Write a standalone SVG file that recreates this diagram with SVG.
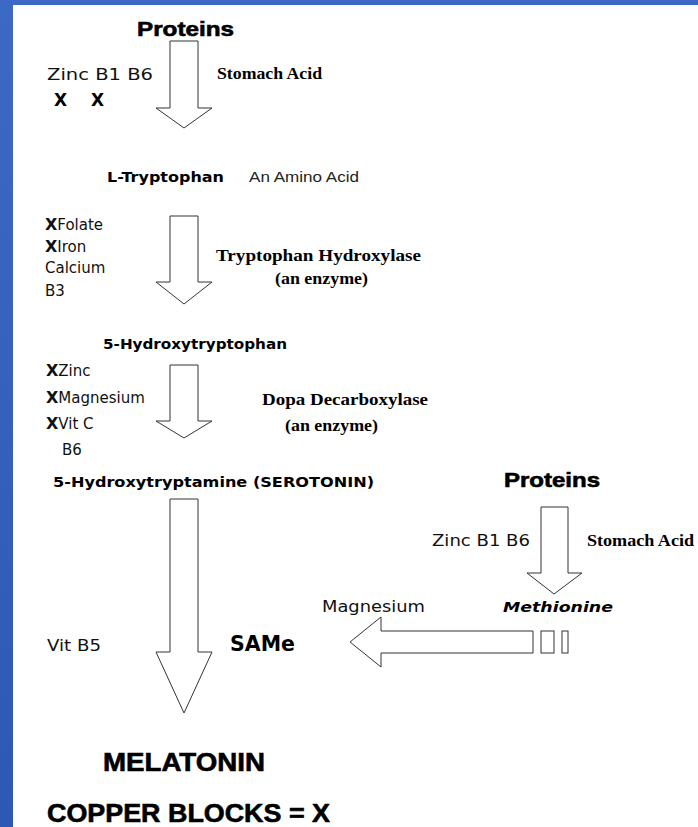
<svg xmlns="http://www.w3.org/2000/svg" width="698" height="827" viewBox="0 0 698 827">
<defs>
<linearGradient id="blue" x1="0" y1="0" x2="0" y2="1">
<stop offset="0" stop-color="#3C68C6"/>
<stop offset="1" stop-color="#2C58B6"/>
</linearGradient>
<style>
.heavy{font-family:"Liberation Sans",Arial,sans-serif;font-weight:bold;fill:#000;stroke:#000;stroke-width:0.6}
.verd{font-family:"DejaVu Sans",Verdana,sans-serif;font-size:15px;fill:#111}
.verdb{font-family:"DejaVu Sans",Verdana,sans-serif;font-size:14px;font-weight:bold;fill:#000}
.serif{font-family:"Liberation Serif","Times New Roman",serif;font-size:16px;font-weight:bold;fill:#000}
.thin{font-family:"Liberation Sans",Arial,sans-serif;font-size:14px;fill:#222}
.arrow{fill:#fff;stroke:#333;stroke-width:1}
</style>
</defs>
<rect x="0" y="0" width="698" height="827" fill="#fff"/>
<rect x="0" y="0" width="13" height="827" fill="url(#blue)"/>
<rect x="0" y="0" width="698" height="5" fill="#3C68C6"/>

<g id="connectors">
<polygon class="arrow" points="170,41 198,41 198,108 212,108 184,128 156,108 170,108"/>
<polygon class="arrow" points="170,216 198,216 198,282 212,282 184,304 156,282 170,282"/>
<polygon class="arrow" points="170,365 198,365 198,421 212,421 184,438 156,421 170,421"/>
<polygon class="arrow" points="170,499 198,499 198,652 212,652 184,713 156,652 170,652"/>
<polygon class="arrow" points="541,507 568,507 568,573 582,573 554,594 527,573 541,573"/>
<polygon class="arrow" points="533,631 533,653 381,653 381,667 350,642 381,617 381,631"/>
<rect class="arrow" x="541" y="631" width="13" height="22"/>
<rect class="arrow" x="562" y="631" width="6" height="22"/>
</g>

<g id="proteins1"><text class="heavy" x="137" y="36" style="font-size:20px" textLength="97" lengthAdjust="spacingAndGlyphs">Proteins</text></g>
<g id="cofactors1">
<text class="verd" x="47" y="80" textLength="106" lengthAdjust="spacingAndGlyphs">Zinc B1  B6</text>
<text class="verdb" x="54" y="106" style="font-size:17px">X</text>
<text class="verdb" x="91" y="106" style="font-size:17px">X</text>
</g>
<g id="stomach1"><text class="serif" x="217" y="79" textLength="105" lengthAdjust="spacingAndGlyphs">Stomach Acid</text></g>

<g id="ltryptophan">
<text class="verdb" x="107" y="182" textLength="117" lengthAdjust="spacingAndGlyphs">L-Tryptophan</text>
<text class="thin" x="249" y="182" textLength="110" lengthAdjust="spacingAndGlyphs">An Amino Acid</text>
</g>
<g id="cofactors2">
<text class="verd" x="45" y="230"><tspan font-weight="bold" style="font-size:16px">X</tspan>Folate</text>
<text class="verd" x="45" y="252"><tspan font-weight="bold" style="font-size:16px">X</tspan>Iron</text>
<text class="verd" x="45" y="273">Calcium</text>
<text class="verd" x="45" y="296">B3</text>
</g>
<g id="enzyme1">
<text class="serif" x="216" y="261" textLength="205" lengthAdjust="spacingAndGlyphs">Tryptophan Hydroxylase</text>
<text class="serif" x="275" y="284" textLength="93" lengthAdjust="spacingAndGlyphs">(an enzyme)</text>
</g>

<g id="htp"><text class="verdb" x="103" y="349" textLength="184" lengthAdjust="spacingAndGlyphs">5-Hydroxytryptophan</text></g>
<g id="cofactors3">
<text class="verd" x="46" y="376"><tspan font-weight="bold" style="font-size:16px">X</tspan>Zinc</text>
<text class="verd" x="46" y="403"><tspan font-weight="bold" style="font-size:16px">X</tspan>Magnesium</text>
<text class="verd" x="46" y="429"><tspan font-weight="bold" style="font-size:16px">X</tspan>Vit C</text>
<text class="verd" x="62" y="455">B6</text>
</g>
<g id="enzyme2">
<text class="serif" x="262" y="405" textLength="166" lengthAdjust="spacingAndGlyphs">Dopa Decarboxylase</text>
<text class="serif" x="285" y="431" textLength="93" lengthAdjust="spacingAndGlyphs">(an enzyme)</text>
</g>

<g id="serotonin"><text class="verdb" x="53" y="487" textLength="321" lengthAdjust="spacingAndGlyphs">5-Hydroxytryptamine (SEROTONIN)</text></g>

<g id="proteins2"><text class="heavy" x="504" y="487" style="font-size:20px" textLength="96" lengthAdjust="spacingAndGlyphs">Proteins</text></g>
<g id="cofactors4"><text class="verd" x="432" y="546" textLength="98" lengthAdjust="spacingAndGlyphs">Zinc B1 B6</text></g>
<g id="stomach2"><text class="serif" x="587" y="546" textLength="107" lengthAdjust="spacingAndGlyphs">Stomach Acid</text></g>
<g id="methionine"><text class="verdb" x="503" y="612" style="font-style:italic" textLength="110" lengthAdjust="spacingAndGlyphs">Methionine</text></g>
<g id="magnesium"><text class="verd" x="322" y="612" textLength="103" lengthAdjust="spacingAndGlyphs">Magnesium</text></g>
<g id="same"><text class="verdb" x="230" y="651" style="font-size:21px" textLength="65" lengthAdjust="spacingAndGlyphs">SAMe</text></g>
<g id="vitb5"><text class="verd" x="47" y="651" textLength="54" lengthAdjust="spacingAndGlyphs">Vit B5</text></g>

<g id="melatonin"><text class="heavy" x="103" y="771" style="font-size:25px" textLength="162" lengthAdjust="spacingAndGlyphs">MELATONIN</text></g>
<g id="legend"><text class="heavy" x="47" y="822" style="font-size:25px" textLength="283" lengthAdjust="spacingAndGlyphs">COPPER BLOCKS = X</text></g>
</svg>
